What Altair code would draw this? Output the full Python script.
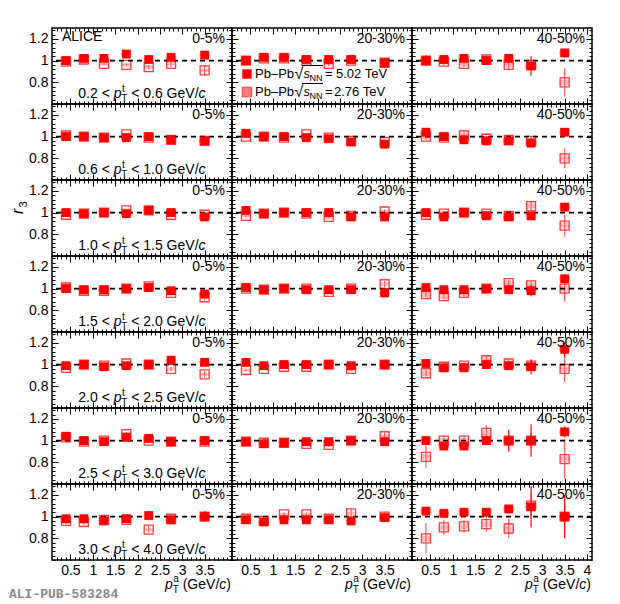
import altair as alt
import pandas as pd

# ---------------- data ----------------
PT_A = [0.4, 0.8, 1.25, 1.75, 2.25, 2.75, 3.5]
CENTRALITY = ["0-5%", "20-30%", "40-50%"]
PT_T_LOW = ["0.2", "0.6", "1.0", "1.5", "2.0", "2.5", "3.0"]
PT_T_HIGH = ["0.6", "1.0", "1.5", "2.0", "2.5", "3.0", "4.0"]

# r3, Pb-Pb 5.02 TeV (filled), one list per pT^t bin
R3_502_C0005 = [
    [1.00, 1.02, 1.02, 1.06, 1.01, 1.03, 1.05],
    [1.00, 1.00, 0.99, 0.99, 1.00, 0.97, 0.96],
    [1.00, 0.99, 1.00, 0.99, 1.02, 1.00, 0.96],
    [1.00, 0.99, 0.99, 1.00, 1.01, 0.98, 0.95],
    [0.99, 1.00, 0.98, 0.99, 1.00, 1.04, 1.02],
    [1.04, 1.00, 0.99, 1.03, 1.02, 0.99, 1.00],
    [0.98, 0.98, 0.96, 0.98, 1.01, 0.97, 1.00],
]
R3_502_C2030 = [
    [1.00, 1.03, 1.03, 1.01, 1.01, 1.01, 0.98],
    [1.03, 1.00, 1.00, 0.99, 0.98, 0.95, 0.93],
    [1.02, 0.99, 1.00, 1.00, 1.00, 0.96, 0.96],
    [1.01, 0.99, 1.00, 0.99, 0.99, 0.99, 0.96],
    [1.02, 0.99, 1.00, 1.00, 1.00, 0.99, 1.00],
    [0.99, 0.97, 0.98, 0.99, 0.99, 1.00, 0.99],
    [0.97, 0.95, 0.97, 0.97, 0.97, 0.96, 0.99],
]
R3_502_C4050 = [
    [1.00, 1.01, 1.02, 1.00, 1.02, 0.95, 1.07],
    [1.04, 1.00, 0.97, 0.96, 0.96, 0.94, 1.04],
    [1.00, 0.96, 1.00, 0.97, 0.96, 0.97, 1.05],
    [1.01, 0.99, 0.99, 1.00, 0.99, 0.98, 1.09],
    [1.01, 0.97, 0.97, 1.00, 0.99, 0.98, 1.14],
    [1.00, 0.95, 0.95, 1.00, 1.00, 1.00, 1.08],
    [1.05, 1.03, 1.04, 1.04, 1.07, 1.09, 1.00],
]
# r3, Pb-Pb 2.76 TeV (open)
R3_276_C0005 = [
    [0.99, 1.01, 0.97, 0.96, 0.94, 0.97, 0.91],
    [1.01, 1.00, 0.99, 1.02, 0.99, 0.97, 0.96],
    [0.98, 0.99, 1.00, 1.02, 1.02, 0.98, 0.98],
    [1.01, 0.98, 0.98, 1.00, 1.02, 0.96, 0.92],
    [0.97, 1.00, 0.99, 1.01, 1.00, 0.96, 0.91],
    [1.03, 0.99, 1.00, 1.06, 1.00, 0.99, 0.99],
    [0.96, 0.95, 0.97, 0.97, 0.88, 0.98, 1.00],
]
R3_276_C2030 = [
    [1.00, 1.02, 1.02, 1.00, 0.97, 1.00, 0.98],
    [1.00, 1.00, 0.99, 1.02, 0.99, 0.96, 0.95],
    [0.97, 0.99, 1.00, 0.99, 0.96, 0.97, 1.01],
    [1.00, 0.99, 1.00, 1.00, 0.97, 1.00, 1.04],
    [0.95, 0.96, 0.98, 0.98, 1.00, 0.96, 1.00],
    [0.99, 0.98, 0.98, 0.97, 0.96, 1.00, 1.04],
    [0.98, 0.96, 1.02, 1.02, 0.98, 1.03, 1.00],
]
R3_276_C4050 = [
    [1.00, 0.99, 0.97, 1.01, 0.96, 0.96, 0.80],
    [1.00, 0.99, 1.01, 0.98, 0.97, 0.96, 0.80],
    [0.98, 0.99, 1.00, 0.99, 0.97, 1.06, 0.88],
    [0.95, 0.93, 0.96, 1.00, 1.05, 1.03, 1.00],
    [0.92, 0.98, 0.99, 1.04, 1.01, 0.99, 0.96],
    [0.85, 1.00, 1.00, 1.07, 1.00, 1.00, 0.83],
    [0.80, 0.90, 0.91, 0.93, 0.89, 1.10, 1.00],
]
# statistical errors
ERR_502_C0005 = [
    [0.02, 0.01, 0.01, 0.01, 0.01, 0.01, 0.03],
    [0.01, 0.01, 0.01, 0.01, 0.01, 0.02, 0.02],
    [0.01, 0.01, 0.01, 0.01, 0.01, 0.01, 0.02],
    [0.01, 0.01, 0.01, 0.01, 0.01, 0.02, 0.03],
    [0.01, 0.01, 0.01, 0.01, 0.01, 0.02, 0.02],
    [0.03, 0.02, 0.01, 0.02, 0.02, 0.04, 0.04],
    [0.03, 0.03, 0.02, 0.03, 0.03, 0.04, 0.05],
]
ERR_502_C2030 = [
    [0.02, 0.01, 0.01, 0.01, 0.01, 0.02, 0.03],
    [0.01, 0.01, 0.01, 0.01, 0.01, 0.02, 0.02],
    [0.01, 0.01, 0.01, 0.01, 0.01, 0.02, 0.02],
    [0.01, 0.01, 0.01, 0.01, 0.01, 0.02, 0.03],
    [0.02, 0.01, 0.01, 0.01, 0.01, 0.02, 0.03],
    [0.02, 0.02, 0.02, 0.02, 0.02, 0.03, 0.03],
    [0.03, 0.02, 0.02, 0.02, 0.02, 0.02, 0.04],
]
ERR_502_C4050 = [
    [0.05, 0.03, 0.03, 0.04, 0.03, 0.09, 0.04],
    [0.04, 0.03, 0.03, 0.03, 0.03, 0.04, 0.04],
    [0.02, 0.02, 0.02, 0.02, 0.02, 0.03, 0.04],
    [0.03, 0.02, 0.02, 0.03, 0.02, 0.05, 0.04],
    [0.03, 0.03, 0.03, 0.03, 0.03, 0.07, 0.07],
    [0.04, 0.04, 0.04, 0.04, 0.10, 0.15, 0.05],
    [0.04, 0.04, 0.04, 0.04, 0.04, 0.19, 0.20],
]
ERR_276_C0005 = [
    [0.02, 0.01, 0.01, 0.01, 0.02, 0.03, 0.05],
    [0.01, 0.01, 0.01, 0.01, 0.01, 0.02, 0.02],
    [0.01, 0.01, 0.01, 0.01, 0.01, 0.02, 0.02],
    [0.01, 0.01, 0.01, 0.01, 0.01, 0.02, 0.03],
    [0.01, 0.01, 0.01, 0.01, 0.01, 0.02, 0.03],
    [0.02, 0.02, 0.02, 0.02, 0.02, 0.03, 0.04],
    [0.03, 0.03, 0.02, 0.03, 0.03, 0.03, 0.05],
]
ERR_276_C2030 = [
    [0.01, 0.01, 0.01, 0.01, 0.02, 0.02, 0.03],
    [0.01, 0.01, 0.01, 0.01, 0.01, 0.02, 0.02],
    [0.01, 0.01, 0.01, 0.01, 0.01, 0.02, 0.02],
    [0.01, 0.01, 0.01, 0.01, 0.01, 0.02, 0.03],
    [0.01, 0.01, 0.01, 0.01, 0.01, 0.02, 0.03],
    [0.02, 0.02, 0.02, 0.02, 0.02, 0.02, 0.04],
    [0.02, 0.02, 0.02, 0.02, 0.02, 0.04, 0.04],
]
ERR_276_C4050 = [
    [0.04, 0.03, 0.03, 0.03, 0.05, 0.05, 0.13],
    [0.03, 0.03, 0.03, 0.03, 0.03, 0.04, 0.09],
    [0.03, 0.02, 0.02, 0.02, 0.02, 0.05, 0.10],
    [0.03, 0.03, 0.03, 0.03, 0.03, 0.04, 0.12],
    [0.03, 0.03, 0.03, 0.04, 0.03, 0.05, 0.12],
    [0.10, 0.05, 0.05, 0.07, 0.05, 0.07, 0.18],
    [0.14, 0.07, 0.06, 0.07, 0.09, 0.10, 0.12],
]
# systematic uncertainty (box half-height), per centrality class
SYS_502 = [0.01, 0.01, 0.02]
SYS_276 = [0.015, 0.015, 0.025]

R3_502 = [R3_502_C0005, R3_502_C2030, R3_502_C4050]
R3_276 = [R3_276_C0005, R3_276_C2030, R3_276_C4050]
ERR_502 = [ERR_502_C0005, ERR_502_C2030, ERR_502_C4050]
ERR_276 = [ERR_276_C0005, ERR_276_C2030, ERR_276_C4050]

# axis tick positions
X_MAJOR = [0.5, 1.0, 1.5, 2.0, 2.5, 3.0, 3.5]
X_MAJOR_LAST = [0.5, 1.0, 1.5, 2.0, 2.5, 3.0, 3.5, 4.0]
X_MINOR = [round(0.2 + 0.1 * i, 2) for i in range(39)]
Y_MAJOR = [0.8, 1.0, 1.2]
Y_MINOR = [round(0.6 + 0.04 * i, 2) for i in range(18)]

# ---------------- styling ----------------
W, H = 180, 76
XS = alt.Scale(domain=[0.2, 4.0], nice=False, zero=False)
YS = alt.Scale(domain=[0.6, 1.3], nice=False, zero=False)
FONT = "Liberation Sans"
RED = "#ff0000"
LABEL_EXPR = "datum.value % 1 === 0 ? format(datum.value, 'd') : format(datum.value, '.1f')"
AXDF = pd.DataFrame({"x": [1.0], "y": [1.0]})


def text_layer(s, x, y, size=14, align="left", style="normal", angle=0, dx=0, dy=0,
               font=FONT, color="black", weight="normal"):
    return alt.Chart(pd.DataFrame({"t": [s]})).mark_text(
        align=align, baseline="alphabetic", font=font, fontSize=size, fontStyle=style,
        fontWeight=weight, color=color, angle=angle, dx=dx, dy=dy
    ).encode(x=alt.value(x), y=alt.value(y), text="t:N")


def axis_layer(ox, oy, xvals, yvals, size, xlab=False, ylab=False):
    xa = dict(orient=ox, values=xvals, tickSize=size, offset=-size, labels=xlab, title=None,
              domain=False, grid=False, tickColor="black", tickWidth=1)
    ya = dict(orient=oy, values=yvals, tickSize=size, offset=-size, labels=ylab, title=None,
              domain=False, grid=False, tickColor="black", tickWidth=1)
    if xlab:
        xa.update(labelExpr=LABEL_EXPR, labelPadding=3, labelFont=FONT, labelFontSize=14,
                  labelColor="black", labelFlush=False, labelOverlap=False)
    if ylab:
        ya.update(labelExpr=LABEL_EXPR, labelPadding=4, labelFont=FONT, labelFontSize=14,
                  labelColor="black", labelFlush=False, labelOverlap=False)
    return alt.Chart(AXDF).mark_point(opacity=0).encode(
        x=alt.X("x:Q", scale=XS, axis=alt.Axis(**xa)),
        y=alt.Y("y:Q", scale=YS, axis=alt.Axis(**ya)),
    )


def series_layers(yv, ev, sys, filled):
    df = pd.DataFrame({"x": PT_A, "y": yv, "err": ev, "sys": [sys] * len(PT_A)})
    base = alt.Chart(df).transform_calculate(
        lo="datum.y - datum.err", hi="datum.y + datum.err",
        slo="datum.y - datum.sys", shi="datum.y + datum.sys")
    X = alt.X("x:Q", scale=XS, axis=None)
    if filled:
        box = base.mark_bar(width=11, color=RED, opacity=0.3, clip=True)
        err = base.mark_rule(color=RED, strokeWidth=1.2, clip=True)
        mk = base.mark_square(size=78, color=RED, opacity=1, clip=True)
    else:
        box = base.mark_bar(width=10, color="#ff8a8a", opacity=0.55, clip=True)
        err = base.mark_rule(color="#ff5c5c", strokeWidth=1.2, clip=True)
        mk = base.mark_point(shape="square", filled=False, size=81, color="#ff3b3b",
                             strokeWidth=1.3, opacity=1, clip=True)
    return [
        box.encode(x=X, y=alt.Y("slo:Q", scale=YS, axis=None), y2="shi:Q"),
        err.encode(x=X, y=alt.Y("lo:Q", scale=YS, axis=None), y2="hi:Q"),
        mk.encode(x=X, y=alt.Y("y:Q", scale=YS, axis=None)),
    ]


def make_panel(r, c):
    bottom = r == 6
    left = c == 0
    xmaj = X_MAJOR_LAST if c == 2 else X_MAJOR
    layers = [
        axis_layer("bottom", "left", xmaj, Y_MAJOR, 6, xlab=bottom, ylab=left),
        axis_layer("top", "right", xmaj, Y_MAJOR, 6),
        axis_layer("bottom", "left", X_MINOR, Y_MINOR, 3),
        axis_layer("top", "right", X_MINOR, Y_MINOR, 3),
    ]
    layers += series_layers(R3_276[c][r], ERR_276[c][r], SYS_276[c], False)
    layers.append(
        alt.Chart(pd.DataFrame({"v": [1.0]})).mark_rule(
            color="black", strokeDash=[5, 4], strokeWidth=1.8
        ).encode(y=alt.Y("v:Q", scale=YS, axis=None))
    )
    layers += series_layers(R3_502[c][r], ERR_502[c][r], SYS_502[c], True)

    # centrality label
    layers.append(text_layer(CENTRALITY[c], 173, 15, align="right"))

    if left:
        x0 = 26.3
        layers += [
            text_layer(PT_T_LOW[r] + " <", x0, 70),
            text_layer("p", x0 + 35.4, 70, style="italic"),
            text_layer("t", x0 + 43.6, 64, size=10),
            text_layer("T", x0 + 43.0, 74, size=10),
            text_layer("< " + PT_T_HIGH[r] + " GeV/", x0 + 52.9, 70),
            text_layer("c", x0 + 120.2, 70, style="italic"),
        ]
    if r == 0 and c == 0:
        layers.append(text_layer("ALICE", 10, 13))
    if r == 2 and c == 0:
        layers += [
            text_layer("r", -29, 34, size=16, style="italic", angle=270),
            text_layer("3", -29, 34, size=11, angle=270, dx=6.5, dy=4),
        ]
    if r == 0 and c == 1:
        # legend
        layers += [
            alt.Chart(AXDF).mark_square(size=90, color=RED, opacity=1).encode(
                x=alt.value(15), y=alt.value(46)),
            alt.Chart(AXDF).mark_square(size=90, color="#ff7a7a", opacity=1,
                                        stroke="#ff3b3b", strokeWidth=1).encode(
                x=alt.value(15), y=alt.value(64)),
        ]
        for base_y, energy, ex in [(50, "5.02 TeV", 104), (68, "2.76 TeV", 102)]:
            layers += [
                text_layer("Pb\u2013Pb", 23, base_y, size=13),
                text_layer("\u221a", 62.5, base_y + 1, size=16),
                text_layer("s", 71.5, base_y, size=13, style="italic"),
                text_layer("NN", 77.5, base_y + 3, size=9),
                text_layer("=", 93, base_y, size=13),
                text_layer(energy, ex, base_y, size=13),
                alt.Chart(AXDF).mark_rule(color="black", strokeWidth=1).encode(
                    x=alt.value(70), x2=alt.value(91), y=alt.value(base_y - 12.5)),
            ]
    if bottom:
        ty = 105
        layers += [
            text_layer("p", 113.0, ty, style="italic"),
            text_layer("a", 121.2, ty - 7, size=10),
            text_layer("T", 120.8, ty + 4, size=10),
            text_layer("(GeV/", 130.7, ty),
            text_layer("c", 167.3, ty, style="italic"),
            text_layer(")", 174.3, ty),
        ]
        if c == 0:
            layers.append(text_layer("ALI-PUB-583284", -43, 114, size=13,
                                     font="Liberation Mono", weight="bold", color="#8a8a8a"))

    return alt.layer(*layers).resolve_axis(x="independent", y="independent").properties(
        width=W, height=H)


panels = [make_panel(r, c) for r in range(7) for c in range(3)]

chart = alt.concat(*panels, columns=3, spacing=0, bounds="flush").properties(
    padding={"left": 0, "top": 18, "right": 0, "bottom": 0}
).configure_view(stroke="black", strokeWidth=1.5)

chart.save("out.html", embed_options={"renderer": "svg", "actions": False})
